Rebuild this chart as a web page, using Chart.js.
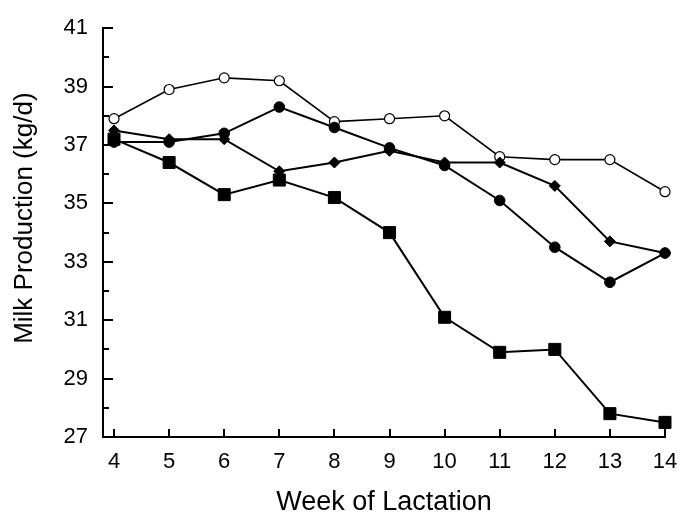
<!DOCTYPE html>
<html>
<head>
<meta charset="utf-8">
<script src="https://cdn.jsdelivr.net/npm/chart.js@4"></script>
<style>
  body { margin: 0; background: #fff; }
  #wrap { width: 680px; height: 516px; }
</style>
</head>
<body>
<div id="wrap"><canvas id="chart" width="680" height="516"></canvas></div>
<script>
const weeks = [4, 5, 6, 7, 8, 9, 10, 11, 12, 13, 14];
const yTicks = [27, 28, 29, 30, 31, 32, 33, 34, 35, 36, 37, 38, 39, 40, 41];

const openCircles   = [37.9, 38.9, 39.3, 39.2, 37.8, 37.9, 38.0, 36.6, 36.5, 36.5, 35.4];
const filledCircles = [37.1, 37.1, 37.4, 38.3, 37.6, 36.9, 36.3, 35.1, 33.5, 32.3, 33.3];
const diamonds      = [37.5, 37.2, 37.2, 36.1, 36.4, 36.8, 36.4, 36.4, 35.6, 33.7, 33.3];
const squares       = [37.2, 36.4, 35.3, 35.8, 35.2, 34.0, 31.1, 29.9, 30.0, 27.8, 27.5];

const FONT = "'Liberation Sans', Arial, Helvetica, sans-serif";

function toPoints(values) {
  return weeks.map((w, i) => ({ x: w, y: values[i] }));
}

// tick marks drawn inward from the axes
const innerTicks = {
  id: 'innerTicks',
  afterDraw(chart) {
    const ctx = chart.ctx;
    const xs = chart.scales.x;
    const ys = chart.scales.y;
    ctx.save();
    ctx.strokeStyle = '#000';
    ctx.lineWidth = 2;
    ctx.beginPath();
    weeks.forEach(w => {
      const px = Math.round(xs.getPixelForValue(w));
      ctx.moveTo(px, xs.top);
      ctx.lineTo(px, xs.top - 8);
    });
    yTicks.forEach(v => {
      const py = Math.round(ys.getPixelForValue(v));
      const len = v % 2 === 1 ? 10 : 6;
      ctx.moveTo(ys.right, py);
      ctx.lineTo(ys.right + len, py);
    });
    ctx.stroke();
    ctx.restore();
  }
};

new Chart(document.getElementById('chart'), {
  type: 'line',
  data: {
    datasets: [
      {
        label: 'squares',
        data: toPoints(squares),
        borderColor: '#000',
        backgroundColor: '#000',
        borderWidth: 2,
        pointStyle: 'rect',
        pointRadius: 8.5,
        pointBorderWidth: 1,
        pointBackgroundColor: '#000',
        clip: false
      },
      {
        label: 'filled circles',
        data: toPoints(filledCircles),
        borderColor: '#000',
        backgroundColor: '#000',
        borderWidth: 2,
        pointStyle: 'circle',
        pointRadius: 5.3,
        pointBorderWidth: 1,
        pointBackgroundColor: '#000',
        clip: false
      },
      {
        label: 'diamonds',
        data: toPoints(diamonds),
        borderColor: '#000',
        backgroundColor: '#000',
        borderWidth: 2,
        pointStyle: 'rectRot',
        pointRadius: 5.5,
        pointBorderWidth: 1,
        pointBackgroundColor: '#000',
        clip: false
      },
      {
        label: 'open circles',
        data: toPoints(openCircles),
        borderColor: '#000',
        backgroundColor: '#fff',
        borderWidth: 1.6,
        pointStyle: 'circle',
        pointRadius: 5,
        pointBorderWidth: 1.2,
        pointBackgroundColor: '#fff',
        clip: false
      }
    ]
  },
  options: {
    responsive: false,
    animation: false,
    layout: { padding: { left: 0, top: 24, right: 15, bottom: 0 } },
    plugins: {
      legend: { display: false },
      tooltip: { enabled: false }
    },
    elements: { line: { tension: 0 } },
    scales: {
      x: {
        type: 'linear',
        min: 3.8,
        max: 14,
        afterBuildTicks: scale => { scale.ticks = weeks.map(v => ({ value: v })); },
        afterFit: scale => {
          scale.height = 79;
          scale.paddingLeft = 0;
          scale.paddingRight = 0;
        },
        grid: { display: false, drawTicks: false },
        border: { display: true, color: '#000', width: 2 },
        ticks: {
          color: '#000',
          font: { family: FONT, size: 22 },
          padding: 12,
          maxRotation: 0,
          autoSkip: false
        },
        title: {
          display: true,
          text: 'Week of Lactation',
          color: '#000',
          font: { family: FONT, size: 27, lineHeight: 1 },
          padding: { top: 0, bottom: 0 }
        }
      },
      y: {
        min: 27,
        max: 41,
        afterBuildTicks: scale => { scale.ticks = yTicks.map(v => ({ value: v })); },
        afterFit: scale => { scale.width = 103; },
        grid: { display: false, drawTicks: false },
        border: { display: true, color: '#000', width: 2 },
        ticks: {
          color: '#000',
          font: { family: FONT, size: 22 },
          padding: 15,
          autoSkip: false,
          callback: v => (v % 2 === 1 ? String(v) : '')
        },
        title: {
          display: true,
          text: '    Milk Production (kg/d)',
          color: '#000',
          font: { family: FONT, size: 26, lineHeight: 1 },
          padding: { top: 12, bottom: 0 }
        }
      }
    }
  },
  plugins: [innerTicks]
});
</script>
</body>
</html>
